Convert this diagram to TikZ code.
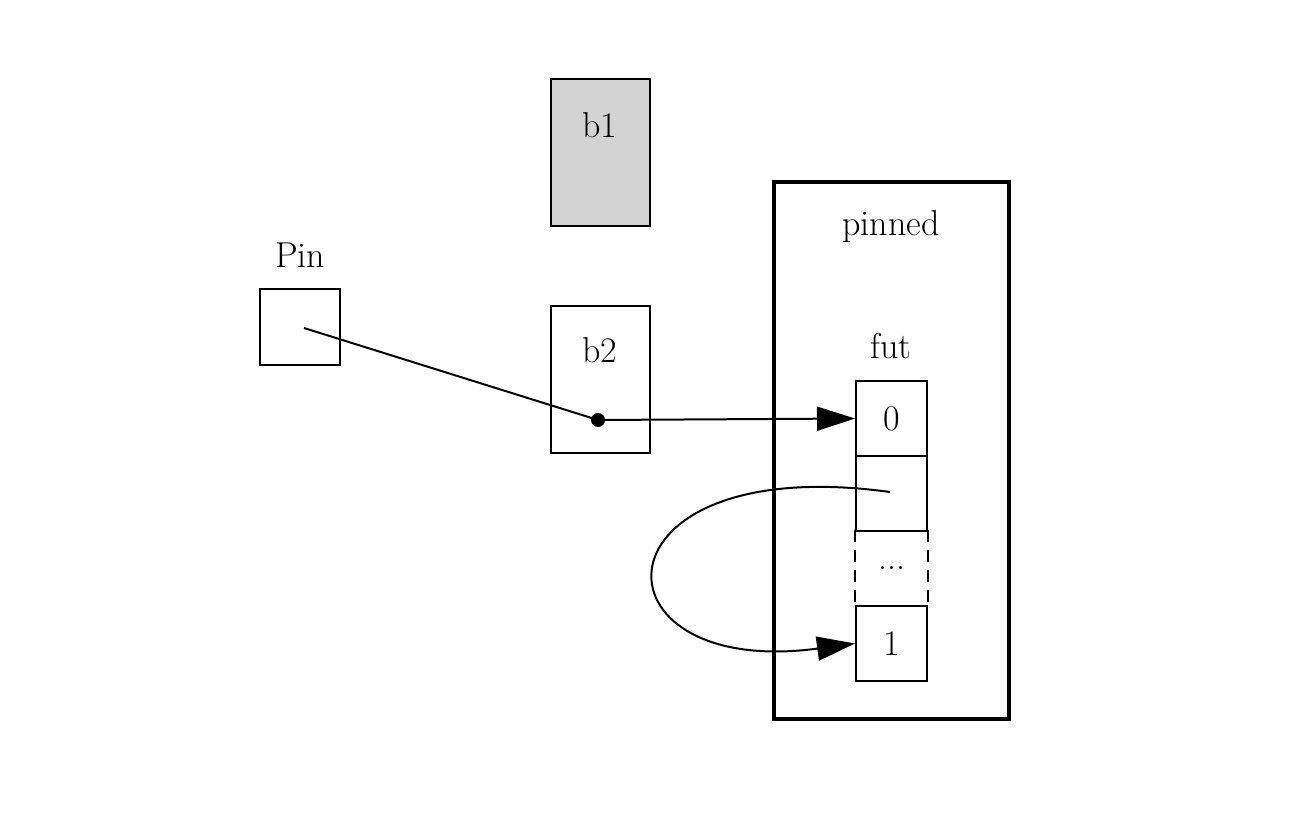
\documentclass[tikz,border=0pt]{standalone}
\usetikzlibrary{arrows.meta}
\begin{document}
\begin{tikzpicture}[x=1pt,y=-1pt,line width=2pt,
  lbl/.style={font=\fontsize{36}{40}\selectfont},
  box/.style={draw,minimum width=99pt,minimum height=147pt,inner sep=0pt},
  cell/.style={draw,minimum width=71pt,minimum height=75pt,inner sep=0pt,font=\fontsize{36}{40}\selectfont},
  tip/.style={-{Triangle[length=38pt,width=24pt]}}]
\useasboundingbox (0,0) rectangle (1304,832);
\node[box,fill={rgb,255:red,211;green,211;blue,211}] (b1) at (600.5,152.5) {};
\node[lbl] (b1t) at (600,125) {b1};
\node[box] (b2) at (600.5,379.5) {};
\node[lbl] (b2t) at (600,350) {b2};
\node[draw,minimum width=80pt,minimum height=76pt,inner sep=0pt] (pin) at (300,327) {};
\node[lbl] (pint) at (300,255) {Pin};
\node[draw,line width=4pt,minimum width=235pt,minimum height=537pt,inner sep=0pt] (pinned) at (891.5,450.5) {};
\node[lbl] (pinnedt) at (891,227) {pinned};
\node[lbl] (fut) at (891,346) {fut};
\node[cell] (c0) at (891.5,418.5) {0};
\node[cell] (ce) at (891.5,493.5) {};
\node[cell,draw=none] (cd) at (891.5,568.5) {...};
\draw[dashed,dash pattern=on 12pt off 8pt] (cd.north west) -- (cd.south west) (cd.north east) -- (cd.south east);
\node[cell] (c1) at (891.5,643.5) {1};
\fill (598,420) circle (7pt) coordinate (dot);
\coordinate (ps) at (304,328);
\draw (ps) -- (dot);
\draw[tip] (dot) -- (c0.west);
\coordinate (cs) at (890,492);
\draw[tip] (cs) .. controls (585,450) and (585,680) .. (c1.west);
\end{tikzpicture}
\end{document}
